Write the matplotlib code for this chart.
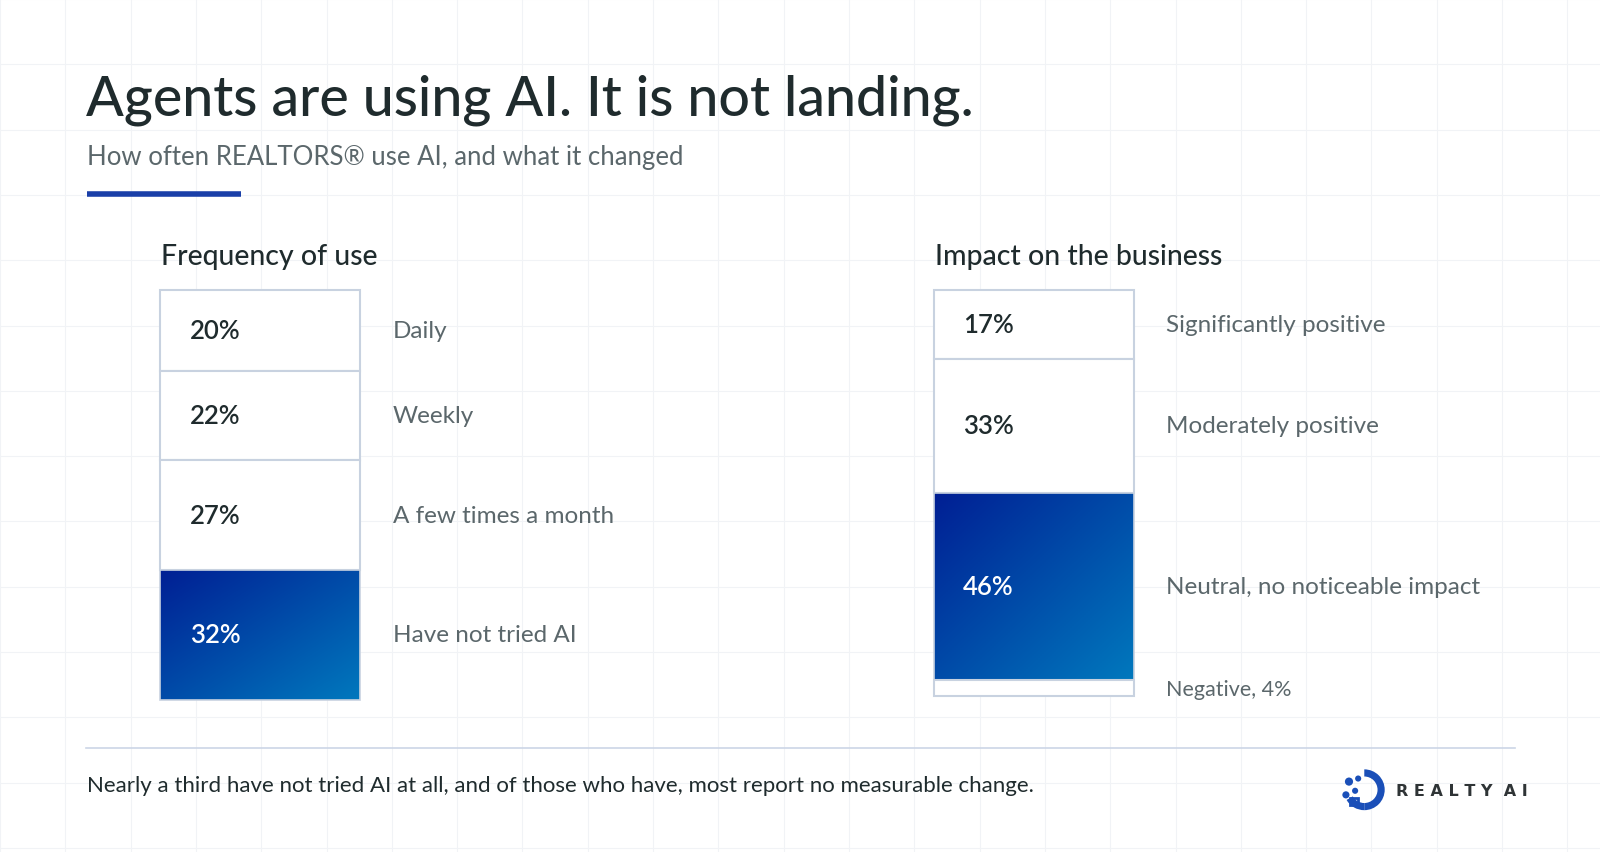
import matplotlib
matplotlib.use("Agg")
import matplotlib.pyplot as plt
import numpy as np
from matplotlib.patches import Rectangle, Circle, Wedge
from matplotlib.colors import LinearSegmentedColormap

freq_labels = ["Daily", "Weekly", "A few times a month", "Have not tried AI"]
freq_values = [20, 22, 27, 32]
impact_labels = ["Significantly positive", "Moderately positive", "Neutral, no noticeable impact", "Negative, 4%"]
impact_values = [17, 33, 46, 4]
impact_value_text = ["17%", "33%", "46%", None]
highlight_freq = 3
highlight_impact = 2

W, H = 1568, 836
fig = plt.figure(figsize=(16, 8.53), dpi=100)
ax = fig.add_axes([0, 0, 1, 1])
ax.set_xlim(0, W); ax.set_ylim(H, 0); ax.axis("off")
fig.patch.set_facecolor("white")

for gx in np.arange(0, W, 64):
    ax.plot([gx, gx], [0, H], color="#f1f3f6", lw=0.8, zorder=0)
for gy in np.arange(0, H, 64):
    ax.plot([0, W], [gy, gy], color="#f1f3f6", lw=0.8, zorder=0)

FONT = "Lato"
dark = "#1f2b2d"
grey = "#5b676b"
ax.text(84, 98, "Agents are using AI. It is not landing.", fontsize=40, family=FONT,
        weight="medium", color=dark, va="center")
ax.text(85, 154, "How often REALTORS® use AI, and what it changed", fontsize=18.5, family=FONT,
        color=grey, va="center")
ax.plot([85, 236], [191, 191], color="#1a3fa8", lw=4, solid_capstyle="butt")

cmap = LinearSegmentedColormap.from_list("g", ["#001f94", "#0078bd"])
gy_, gx_ = np.mgrid[0:1:100j, 0:1:100j]
grad = (gx_ + gy_) / 2

PX = 3.98
def stacked(x0, width, top, values, labels, texts, hi, lab_x, title):
    ax.text(x0 + 1, 252, title, fontsize=20.5, family=FONT, weight="medium", color=dark, va="center")
    y = top
    for i, v in enumerate(values):
        h = v * PX
        if i == hi:
            im = ax.imshow(grad, cmap=cmap, extent=[x0, x0 + width, y + h, y], zorder=2, aspect="auto")
            r = Rectangle((x0, y), width, h, fc="none", ec="none")
            ax.add_patch(r); im.set_clip_path(r)
            ax.add_patch(Rectangle((x0, y), width, h, fc="none", ec="#c8d2e0", lw=1.2, zorder=3))
            tc = "white"
        else:
            ax.add_patch(Rectangle((x0, y), width, h, fc="white", ec="#c8d2e0", lw=1.5, zorder=2))
            tc = dark
        t = texts[i]
        if t:
            ax.text(x0 + 29, y + h / 2, t, fontsize=18.5, family=FONT, weight="semibold", color=tc,
                    va="center", zorder=4)
        fs = 15.5 if (texts[i] is None) else 17.5
        ax.text(lab_x, y + h / 2 + (1 if texts[i] is None else 0), labels[i], fontsize=fs,
                family=FONT, color=grey, va="center")
        y += h

stacked(157, 196, 285, freq_values, freq_labels, [f"{v}%" for v in freq_values], highlight_freq, 385,
        "Frequency of use")
stacked(915, 196, 285, impact_values, impact_labels, impact_value_text, highlight_impact, 1143,
        "Impact on the business")

ax.plot([84, 1485], [734, 734], color="#ccd6e6", lw=1.2)
ax.text(85, 770, "Nearly a third have not tried AI at all, and of those who have, most report no measurable change.",
        fontsize=16, family=FONT, color=dark, va="center")

ax.add_patch(Wedge((1337, 775), 20, -90, 90, width=7, fc="#1a4fb8", zorder=3))
ax.add_patch(Wedge((1337, 775), 20, 90, 150, width=7, fc="#1a4fb8", zorder=3))
for (cx, cy, r) in [(1322, 767, 4), (1319, 780, 3.5), (1331, 764, 3), (1328, 776, 3)]:
    ax.add_patch(Circle((cx, cy), r, fc="#1a4fb8", zorder=3))
ax.add_patch(Rectangle((1323, 783), 8, 7, fc="none", ec="#1a4fb8", lw=2, zorder=3))
ax.text(1368, 776, "R E A L T Y  A I", fontsize=11.5, family="DejaVu Sans", weight="bold",
        color="#2f3436", va="center")

fig.savefig("out.png", dpi=100, facecolor="white")
